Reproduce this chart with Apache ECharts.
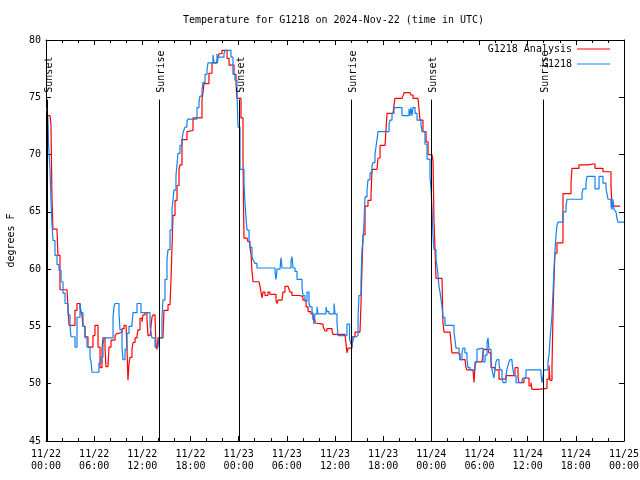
<!DOCTYPE html>
<html><head><meta charset="utf-8">
<script src="https://cdn.jsdelivr.net/npm/echarts@6/dist/echarts.min.js"></script>
<style>html,body{margin:0;padding:0;background:#fff}#c{width:640px;height:480px}</style>
</head><body><div id="c"></div>
<script>
// x tick labels (every 6 hours from 2024-11-22 00:00 UTC)
const xTickDates = ['11/22','11/22','11/22','11/22','11/23','11/23','11/23','11/23','11/24','11/24','11/24','11/24','11/25'];
const xTickTimes = ['00:00','06:00','12:00','18:00','00:00','06:00','12:00','18:00','00:00','06:00','12:00','18:00','00:00'];
// sunrise / sunset markers (hours since start)
const sunHours = [0.12, 14.08, 24.04, 37.99, 47.96, 61.91];
const sunLabels = ['Sunset','Sunrise','Sunset','Sunrise','Sunset','Sunrise'];
const seriesNames = ['G1218 Analysis','G1218'];
// [hours since start, degrees F]
const analysisPoints = [[0.25,73.4],[0.50,73.3],[0.62,72.6],[0.75,66.0],[0.87,63.5],[1.37,63.4],[1.49,61.2],[1.74,58.2],[2.62,58.2],[2.74,56.6],[2.87,55.1],[3.36,55.1],[3.61,56.4],[3.86,57.0],[4.24,56.6],[4.48,56.0],[4.61,55.0],[4.86,54.1],[5.23,53.2],[5.85,54.2],[6.10,55.1],[6.48,53.2],[6.73,51.4],[6.98,53.0],[7.10,54.0],[7.35,53.2],[7.47,51.5],[7.72,51.5],[7.85,53.2],[8.10,53.8],[8.60,54.2],[8.84,54.4],[9.09,54.5],[9.47,54.8],[9.72,55.1],[9.97,55.1],[10.09,53.0],[10.21,50.3],[10.34,51.8],[10.46,52.3],[10.71,53.0],[10.84,53.6],[11.09,54.0],[11.34,54.2],[11.46,54.7],[11.71,55.7],[11.96,55.4],[12.08,56.0],[12.33,56.2],[12.58,55.6],[12.71,54.2],[12.96,54.2],[13.08,55.0],[13.20,55.8],[13.33,56.0],[13.58,56.0],[13.70,53.2],[13.83,53.0],[13.95,54.0],[14.57,54.0],[14.70,56.4],[15.20,56.9],[15.45,57.0],[15.57,59.0],[15.70,62.0],[15.82,64.7],[16.07,66.0],[16.32,67.3],[16.57,68.7],[16.69,69.1],[16.94,71.3],[17.56,72.0],[17.69,72.1],[18.31,73.2],[19.43,74.8],[19.56,75.4],[19.68,76.2],[20.30,77.1],[20.68,78.0],[21.30,78.2],[21.43,78.5],[21.55,78.8],[21.92,79.1],[22.55,78.4],[22.80,77.8],[23.17,77.8],[23.42,77.0],[23.67,76.2],[23.79,74.9],[24.29,73.2],[24.54,69.5],[24.66,62.7],[25.04,62.7],[25.16,62.4],[25.41,61.9],[25.54,61.3],[25.66,59.8],[25.79,58.9],[26.53,58.9],[26.66,58.5],[26.78,58.0],[26.91,57.5],[27.03,58.0],[27.28,57.7],[27.65,58.0],[27.90,57.8],[28.40,57.8],[28.65,57.2],[28.78,57.0],[28.90,57.3],[29.40,57.3],[29.52,58.0],[29.77,58.5],[30.15,58.5],[30.39,58.0],[30.64,57.7],[31.64,57.6],[32.01,57.3],[32.39,56.7],[32.64,56.3],[33.01,56.1],[33.26,55.6],[33.51,55.3],[33.63,55.2],[34.51,55.0],[34.75,54.6],[35.00,54.8],[35.63,54.6],[35.75,54.3],[37.25,54.2],[37.49,52.7],[37.62,53.1],[37.87,53.1],[38.12,54.1],[38.49,54.5],[39.11,54.5],[39.24,57.0],[39.36,60.0],[39.49,63.0],[39.74,65.5],[40.11,66.0],[40.48,66.3],[40.61,68.7],[41.23,68.7],[41.36,69.7],[41.61,70.8],[42.23,70.8],[42.35,72.1],[42.48,73.6],[43.23,73.6],[43.35,74.3],[43.47,74.9],[44.35,74.9],[44.47,75.1],[44.60,75.4],[45.34,75.4],[45.47,75.2],[45.72,74.9],[46.34,74.9],[46.46,74.0],[46.59,73.0],[46.96,72.0],[47.34,71.1],[47.59,70.0],[48.08,70.0],[48.21,69.5],[48.33,64.3],[48.46,61.7],[48.58,59.2],[49.33,59.2],[49.45,55.3],[49.58,54.5],[50.33,54.5],[50.45,53.6],[50.57,52.7],[51.32,52.6],[51.57,52.1],[52.19,52.1],[52.32,51.4],[52.44,51.2],[53.19,51.2],[53.32,50.1],[53.44,51.6],[53.56,51.9],[54.31,51.9],[54.44,52.7],[54.56,53.0],[55.06,53.0],[55.18,52.7],[55.43,51.4],[55.93,51.2],[56.43,50.4],[57.30,50.7],[58.05,50.7],[58.42,51.4],[58.80,50.5],[58.92,50.1],[59.54,50.5],[60.17,49.8],[60.42,50.1],[60.54,49.5],[61.29,49.6],[62.41,50.4],[62.66,51.6],[62.78,50.3],[63.03,51.5],[63.16,56.2],[63.28,59.1],[63.40,61.4],[63.65,62.3],[64.40,66.6],[65.40,67.6],[65.52,68.8],[66.39,69.1],[67.52,69.2],[68.39,68.8],[69.38,68.5],[70.38,67.2],[70.51,65.5],[71.50,65.5]];
const observedPoints = [[0.12,74.1],[0.25,73.0],[0.31,71.0],[0.50,68.7],[0.62,66.0],[0.75,63.9],[0.87,62.5],[1.12,61.2],[1.37,60.4],[1.62,59.9],[1.87,58.9],[2.12,57.9],[2.37,57.0],[2.74,56.0],[2.99,55.1],[3.11,54.1],[3.61,53.2],[3.86,55.8],[4.24,57.0],[4.36,56.2],[4.61,55.0],[4.86,54.0],[5.11,53.2],[5.48,52.3],[5.61,51.9],[5.73,51.0],[6.60,51.8],[6.85,52.3],[7.10,53.4],[7.22,54.0],[8.35,55.8],[8.47,56.7],[8.60,57.0],[9.09,56.2],[9.22,54.7],[9.47,53.2],[9.59,52.1],[9.84,53.0],[10.09,54.4],[10.34,55.0],[10.71,55.2],[10.84,56.2],[11.34,57.0],[11.83,56.2],[12.96,55.0],[13.20,54.0],[13.58,53.2],[13.95,53.1],[14.08,54.0],[14.45,55.8],[14.57,57.3],[14.82,59.1],[15.07,60.8],[15.20,61.7],[15.45,63.4],[15.70,65.2],[15.94,66.9],[16.19,68.2],[16.32,69.1],[16.44,70.1],[16.69,70.8],[16.94,71.3],[17.07,71.9],[17.31,72.4],[17.56,72.9],[17.69,73.1],[18.81,74.1],[19.06,74.6],[19.18,75.1],[19.43,75.6],[19.56,76.3],[19.81,77.0],[20.06,77.4],[20.18,78.0],[20.80,78.7],[20.93,78.0],[21.30,78.8],[21.36,78.0],[21.43,78.5],[22.17,78.8],[22.30,79.1],[23.04,78.5],[23.29,77.0],[23.54,76.5],[23.79,75.6],[23.85,73.9],[23.92,72.4],[24.17,68.7],[24.66,67.5],[24.79,65.8],[24.91,64.5],[25.04,63.4],[25.29,62.7],[25.41,61.9],[25.66,61.1],[25.79,60.8],[26.03,60.5],[26.28,60.1],[28.53,59.7],[28.65,59.1],[28.78,60.0],[29.15,60.1],[29.27,61.0],[29.40,60.1],[30.52,60.7],[30.64,61.1],[30.77,60.1],[31.02,59.8],[31.27,59.1],[31.89,58.5],[32.01,57.7],[32.26,57.2],[32.51,58.0],[32.76,57.0],[32.89,56.7],[33.14,56.3],[33.26,56.1],[33.38,55.2],[33.51,56.1],[33.76,56.7],[33.88,56.1],[34.88,56.7],[35.00,56.3],[35.25,56.1],[35.88,57.0],[36.00,56.1],[36.25,55.3],[36.37,54.2],[37.49,55.2],[37.81,53.9],[37.99,53.5],[38.12,53.3],[38.24,53.8],[38.37,54.1],[38.62,54.2],[38.87,55.8],[38.99,57.7],[39.24,59.0],[39.36,61.7],[39.49,62.5],[39.61,64.0],[39.74,66.3],[39.99,66.9],[40.11,67.8],[40.36,68.4],[40.61,69.0],[40.73,69.3],[40.98,70.0],[41.11,70.7],[41.23,71.3],[41.36,72.0],[42.73,72.6],[42.85,73.0],[43.10,73.6],[43.35,74.1],[44.35,73.4],[45.22,74.0],[45.34,73.4],[45.47,74.1],[45.59,73.4],[45.72,74.1],[45.97,73.6],[46.22,73.0],[46.71,72.6],[46.84,72.0],[47.21,70.9],[47.46,69.6],[47.83,68.1],[47.96,67.0],[48.08,65.4],[48.21,62.8],[48.33,61.7],[48.58,60.8],[48.71,60.3],[48.83,59.5],[48.95,58.5],[49.08,58.0],[49.20,57.4],[49.33,56.7],[49.45,55.8],[49.70,55.1],[50.82,54.5],[50.95,53.8],[51.07,53.1],[51.45,52.7],[51.57,52.1],[51.82,52.7],[51.94,53.1],[52.19,52.7],[52.44,52.1],[52.57,51.4],[52.82,51.2],[53.44,51.9],[53.69,53.0],[53.81,53.1],[54.44,51.9],[54.69,52.5],[54.94,53.6],[55.06,54.0],[55.18,53.0],[55.43,52.1],[55.56,51.2],[55.80,50.5],[55.93,51.2],[56.05,51.9],[56.18,52.1],[56.43,51.7],[56.55,51.2],[56.80,50.5],[56.93,50.1],[57.30,50.7],[57.43,51.3],[57.67,51.9],[57.80,52.1],[58.05,51.9],[58.17,51.2],[58.30,50.7],[58.55,50.1],[59.29,50.3],[59.42,50.5],[59.79,51.2],[61.66,50.7],[61.79,50.1],[61.91,50.7],[62.03,51.2],[62.53,51.9],[62.66,52.5],[62.78,53.8],[62.91,55.0],[63.03,56.0],[63.16,58.0],[63.28,60.0],[63.40,61.6],[63.53,63.0],[63.65,63.8],[63.78,64.1],[64.40,65.0],[64.78,65.5],[64.90,66.1],[66.77,66.6],[66.89,67.0],[67.27,67.6],[67.39,68.1],[68.39,67.0],[68.89,68.1],[69.38,67.5],[69.76,67.0],[69.88,66.6],[70.01,66.1],[70.38,65.5],[70.51,65.2],[70.63,66.1],[70.76,65.2],[71.00,65.0],[71.13,64.4],[71.25,64.1],[72.00,64.1]];

const FONT = '"DejaVu Sans Mono", "Liberation Mono", monospace';
const txt = {fontFamily: FONT, fontSize: 10, color: '#000'};
const chart = echarts.init(document.getElementById('c'), null, {renderer: 'canvas'});

function xAxisDef(pos, labels) {
  return {
    type: 'value', position: pos, min: 0, max: 72, interval: 6,
    axisLine: {show: true, onZero: false, lineStyle: {color: '#000', width: 1}},
    axisTick: {show: true, inside: true, length: 5, lineStyle: {color: '#000'}},
    minorTick: {show: true, splitNumber: 3, length: 3, lineStyle: {color: '#000'}},
    splitLine: {show: false}, minorSplitLine: {show: false},
    axisLabel: labels ? Object.assign({
      show: true, margin: 7, lineHeight: 12, showMinLabel: true, showMaxLabel: true,
      formatter: function (v) { const i = Math.round(v / 6); return xTickDates[i] + '\n' + xTickTimes[i]; }
    }, txt) : {show: false}
  };
}
function yAxisDef(pos, labels) {
  const a = {
    type: 'value', position: pos, min: 45, max: 80, interval: 5,
    axisLine: {show: true, onZero: false, lineStyle: {color: '#000', width: 1}},
    axisTick: {show: true, inside: true, length: 5, lineStyle: {color: '#000'}},
    splitLine: {show: false},
    axisLabel: labels ? Object.assign({show: true, margin: 5}, txt) : {show: false}
  };
  if (labels) {
    a.name = 'degrees F'; a.nameLocation = 'middle'; a.nameRotate = 90; a.nameGap = 30;
    a.nameTextStyle = txt;
  }
  return a;
}

const option = {
  animation: false,
  title: {
    text: 'Temperature for G1218 on 2024-Nov-22 (time in UTC)',
    left: 183, top: 15, padding: 0,
    textStyle: {fontFamily: FONT, fontSize: 10, fontWeight: 'normal', color: '#000'}
  },
  legend: [
    {data: [seriesNames[0]], right: 30, top: 43, padding: 0, orient: 'vertical', align: 'right', icon: 'rect',
     itemWidth: 33, itemHeight: 1, textStyle: Object.assign({lineHeight: 12}, txt)},
    {data: [seriesNames[1]], right: 30, top: 58, padding: 0, orient: 'vertical', align: 'right', icon: 'rect',
     itemWidth: 33, itemHeight: 1, textStyle: Object.assign({lineHeight: 12}, txt)}
  ],
  grid: {left: 46, right: 16, top: 40, bottom: 39, containLabel: false, outerBoundsMode: 'none'},
  xAxis: [xAxisDef('bottom', true), xAxisDef('top', false)],
  yAxis: [yAxisDef('left', true), yAxisDef('right', false)],
  series: [
    {
      name: 'sun', type: 'custom', xAxisIndex: 0, yAxisIndex: 0, z: 3,
      data: sunHours.map(function (h) { return [h, 60]; }),
      renderItem: function (params, api) {
        const h = api.value(0);
        const top = api.coord([h, 74.8]);
        const bot = api.coord([h, 45]);
        const lab = api.coord([h, 75.4]);
        return {type: 'group', children: [
          {type: 'line', shape: {x1: Math.round(top[0]) + 0.5, y1: top[1], x2: Math.round(bot[0]) + 0.5, y2: bot[1]},
           style: {stroke: '#000', lineWidth: 1}},
          {type: 'text', x: lab[0] + 2, y: lab[1], rotation: Math.PI / 2,
           style: {text: sunLabels[params.dataIndex], fill: '#000', font: '10px ' + FONT,
                   align: 'left', verticalAlign: 'middle', textAlign: 'left', textVerticalAlign: 'middle'}}
        ]};
      }
    },
    {
      name: seriesNames[0], type: 'line', step: 'end', showSymbol: false, color: '#ff0000',
      lineStyle: {width: 1.2, color: '#ff0000'}, data: analysisPoints, z: 2
    },
    {
      name: seriesNames[1], type: 'line', step: 'end', showSymbol: false, color: '#1083f0',
      lineStyle: {width: 1.2, color: '#1083f0'}, data: observedPoints, z: 2
    }
  ]
};
chart.setOption(option);
</script>
</body></html>
